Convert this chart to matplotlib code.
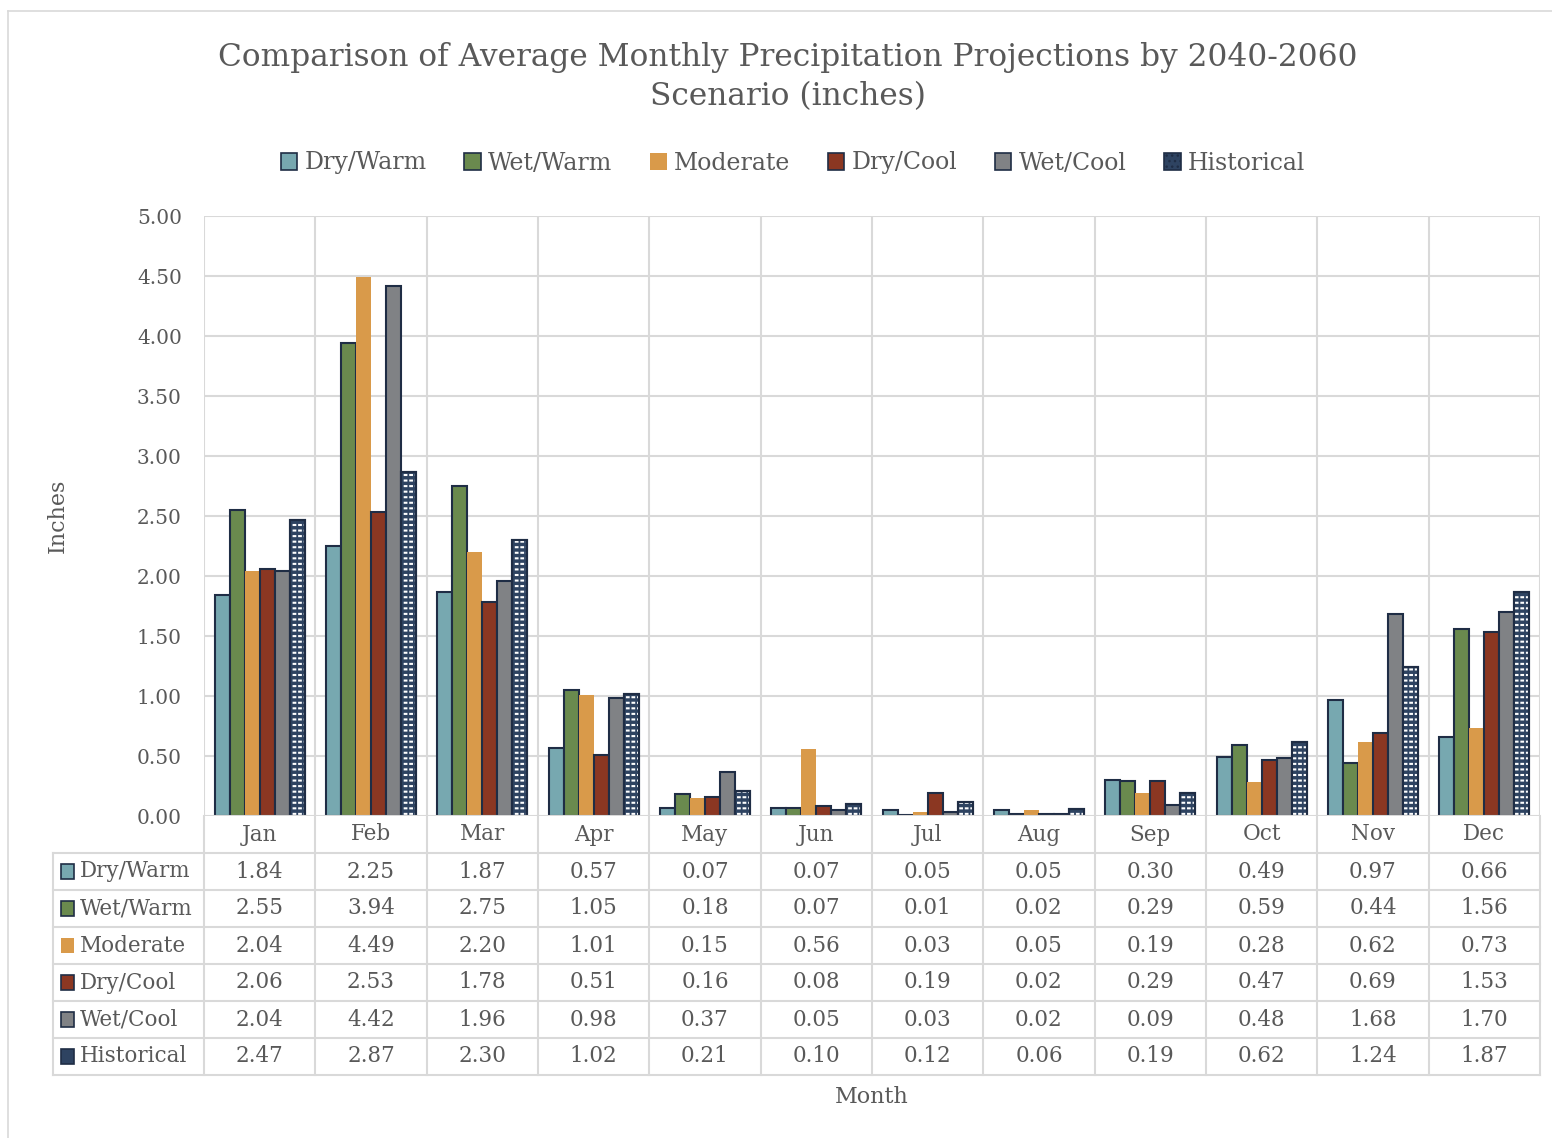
import matplotlib
matplotlib.use("Agg")
import matplotlib.pyplot as plt
from matplotlib.patches import Patch, Rectangle
from matplotlib.lines import Line2D
import numpy as np

months = ["Jan", "Feb", "Mar", "Apr", "May", "Jun", "Jul", "Aug", "Sep", "Oct", "Nov", "Dec"]
scenarios = ["Dry/Warm", "Wet/Warm", "Moderate", "Dry/Cool", "Wet/Cool", "Historical"]

dry_warm = [1.84, 2.25, 1.87, 0.57, 0.07, 0.07, 0.05, 0.05, 0.30, 0.49, 0.97, 0.66]
wet_warm = [2.55, 3.94, 2.75, 1.05, 0.18, 0.07, 0.01, 0.02, 0.29, 0.59, 0.44, 1.56]
moderate = [2.04, 4.49, 2.20, 1.01, 0.15, 0.56, 0.03, 0.05, 0.19, 0.28, 0.62, 0.73]
dry_cool = [2.06, 2.53, 1.78, 0.51, 0.16, 0.08, 0.19, 0.02, 0.29, 0.47, 0.69, 1.53]
wet_cool = [2.04, 4.42, 1.96, 0.98, 0.37, 0.05, 0.03, 0.02, 0.09, 0.48, 1.68, 1.70]
historical = [2.47, 2.87, 2.30, 1.02, 0.21, 0.10, 0.12, 0.06, 0.19, 0.62, 1.24, 1.87]

series = [dry_warm, wet_warm, moderate, dry_cool, wet_cool, historical]
fills = ["#77A8B0", "#6A8A4E", "#D99A4A", "#8B3722", "#808285", "#2E4361"]
edge = "#1F2D45"
text_c = "#595959"
grid_c = "#D9D9D9"
font = "DejaVu Serif"

plt.rcParams["font.family"] = font
W, H = 1552, 1138
fig = plt.figure(figsize=(W / 100, H / 100), dpi=100)

def fx(px):
    return px / W

def fy(py):
    return 1 - py / H

# outer frame
fig.add_artist(Line2D([fx(8), fx(8)], [fy(11), 0], color=grid_c, lw=1.2))
fig.add_artist(Line2D([fx(8), 1], [fy(11), fy(11)], color=grid_c, lw=1.2))

L, R, T, B = 204, 1540, 216, 816
ax = fig.add_axes([fx(L), fy(B), fx(R) - fx(L), fy(T) - fy(B)])
ax.set_xlim(-0.5, 11.5)
ax.set_ylim(0, 5)
ax.set_yticks(np.arange(0, 5.01, 0.5))
ax.set_yticklabels([f"{v:.2f}" for v in np.arange(0, 5.01, 0.5)])
ax.tick_params(axis="y", length=0, labelsize=14.5, labelcolor=text_c, pad=16)
ax.set_xticks([])
for s in ax.spines.values():
    s.set_visible(False)
ax.grid(False)
for v in np.arange(0.5, 5.01, 0.5):
    ax.axhline(v, color=grid_c, lw=1.5, zorder=0)
for b in np.arange(-0.5, 11.6, 1):
    ax.axvline(b, color=grid_c, lw=1.5, zorder=0)

x = np.arange(len(months))
bw = 0.135
offsets = (np.arange(6) - 2.5) * bw
for i, (vals, col) in enumerate(zip(series, fills)):
    ec = "none" if i == 2 else edge
    ax.bar(x + offsets[i], vals, bw, color=col, edgecolor=ec, linewidth=1.5, zorder=3)
    if i == 5:
        # white dash pattern: horizontal white lines broken by navy verticals
        with plt.rc_context({"hatch.linewidth": 1.5}):
            ax.bar(x + offsets[i], vals, bw, facecolor="none", edgecolor="white",
                   hatch="---", linewidth=0, zorder=4)
        with plt.rc_context({"hatch.linewidth": 1.3}):
            ax.bar(x + offsets[i], vals, bw, facecolor="none", edgecolor=fills[5],
                   hatch="|||", linewidth=0, zorder=5)
        ax.bar(x + offsets[i], vals, bw, facecolor="none", edgecolor=edge,
               linewidth=1.5, zorder=6)
ax.axhline(0, color=grid_c, lw=1.5, zorder=7)

ax.set_ylabel("Inches", fontsize=16, color=text_c)
ax.yaxis.set_label_coords((69 - L) / (R - L), 0.5)

# data table below the plot
TL, TB = 53, 1075
tax = fig.add_axes([fx(TL), fy(TB), fx(R) - fx(TL), fy(B) - fy(TB)])
cw = (R - L) / 12
xl = -0.5 - (L - TL) / cw
tax.set_xlim(xl, 11.5)
tax.set_ylim(7, 0)
tax.axis("off")
for r in range(1, 8):
    tax.plot([xl, 11.5], [r, r], color=grid_c, lw=1.5, clip_on=False)
tax.plot([xl, xl], [1, 7], color=grid_c, lw=1.5, clip_on=False)
for b in np.arange(-0.5, 11.6, 1):
    tax.plot([b, b], [0, 7], color=grid_c, lw=1.5, clip_on=False)
for j, m in enumerate(months):
    tax.text(j, 0.5, m, ha="center", va="center", fontsize=15.5, color=text_c)
for i, (name, vals) in enumerate(zip(scenarios, series)):
    yc = i + 1.5
    ec = "none" if i == 2 else edge
    sq = Rectangle((xl + 0.07, yc - 0.19), 0.115, 0.38, facecolor=fills[i], edgecolor=ec,
                   lw=1.2, clip_on=False)
    tax.add_patch(sq)
    tax.text(xl + 0.24, yc, name, ha="left", va="center", fontsize=15.5, color=text_c)
    for j, v in enumerate(vals):
        tax.text(j, yc, f"{v:.2f}", ha="center", va="center", fontsize=15.5, color=text_c)

fig.text(fx(872), fy(1097), "Month", ha="center", va="center", fontsize=16, color=text_c)

fig.text(fx(788), fy(77), "Comparison of Average Monthly Precipitation Projections by 2040-2060\nScenario (inches)",
         ha="center", va="center", fontsize=22.5, color=text_c, linespacing=1.3)

handles = [Patch(facecolor=c, edgecolor=("none" if i == 2 else edge), lw=1.2,
                 hatch=("..." if i == 5 else None)) for i, c in enumerate(fills)]
leg = fig.legend(handles, scenarios, loc="center", bbox_to_anchor=(fx(793), fy(163)),
                 ncol=6, frameon=False, fontsize=17, handlelength=0.7, handleheight=0.7,
                 handletextpad=0.3, columnspacing=1.6, labelcolor=text_c)

fig.savefig("out.png", dpi=100, facecolor="white")
